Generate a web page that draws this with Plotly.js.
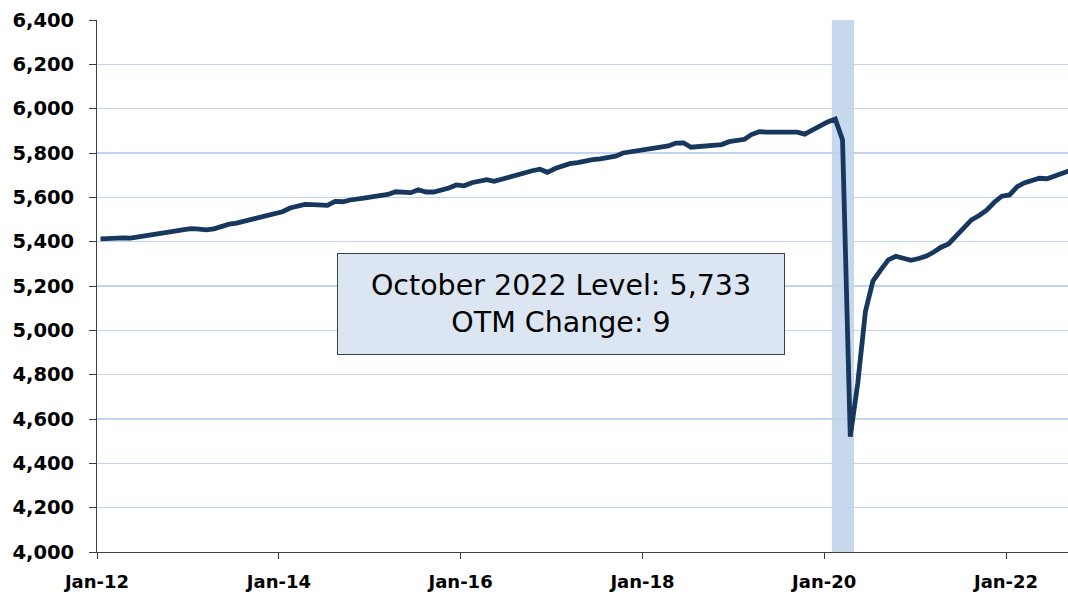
<!DOCTYPE html>
<html>
<head>
<meta charset="utf-8">
<script src="https://cdn.plot.ly/plotly-3.0.1.min.js"></script>
<style>
  html, body { margin: 0; padding: 0; background: #ffffff; }
  #chart { width: 1068px; height: 594px; }
</style>
</head>
<body>
<div id="chart"></div>
<script>
// Monthly levels (thousands), Jan 2012 – Oct 2022
const startYear = 2012;
const v2012 = [5413, 5415, 5420, 5417, 5416, 5422, 5430, 5432, 5440, 5445, 5449, 5454];
const v2013 = [5459, 5457, 5453, 5458, 5470, 5479, 5484, 5492, 5500, 5507, 5514, 5527];
const v2014 = [5535, 5552, 5562, 5568, 5567, 5565, 5564, 5582, 5580, 5588, 5595, 5598];
const v2015 = [5603, 5608, 5613, 5625, 5622, 5621, 5634, 5624, 5624, 5632, 5642, 5656];
const v2016 = [5652, 5666, 5675, 5680, 5672, 5682, 5693, 5703, 5714, 5720, 5727, 5713];
const v2017 = [5730, 5742, 5752, 5757, 5766, 5770, 5774, 5778, 5786, 5800, 5806, 5812];
const v2018 = [5814, 5820, 5826, 5832, 5845, 5846, 5826, 5828, 5833, 5836, 5838, 5851];
const v2019 = [5857, 5862, 5883, 5896, 5894, 5895, 5896, 5895, 5894, 5885, 5905, 5922];
const v2020 = [5940, 5953, 5859, 4520, 4760, 5085, 5222, 5272, 5318, 5334, 5327, 5316];
const v2021 = [5324, 5335, 5352, 5375, 5390, 5428, 5465, 5498, 5518, 5542, 5578, 5605];
const v2022 = [5611, 5648, 5665, 5678, 5686, 5684, 5697, 5705, 5724, 5733];
const yearly = [v2012, v2013, v2014, v2015, v2016, v2017, v2018, v2019, v2020, v2021, v2022];

const recession = ['2020-02-01', '2020-04-30'];
const boxText = ['October 2022 Level: 5,733', 'OTM Change: 9'];

const xs = [], ys = [];
yearly.forEach((arr, i) => {
  arr.forEach((v, m) => {
    const mm = String(m + 1).padStart(2, '0');
    xs.push((startYear + i) + '-' + mm + '-15');
    ys.push(v);
  });
});

const trace = {
  x: xs, y: ys, type: 'scatter', mode: 'lines',
  line: { color: '#17375E', width: 4.8 },
  hoverinfo: 'x+y'
};

const fontFam = 'DejaVu Sans, Verdana, sans-serif';

const layout = {
  width: 1068, height: 594,
  margin: { l: 97, r: 0, t: 20, b: 42 },
  paper_bgcolor: '#ffffff', plot_bgcolor: '#ffffff',
  showlegend: false,
  xaxis: {
    type: 'date',
    range: ['2012-01-01', '2022-09-07'],
    tick0: '2012-01-01', dtick: 'M24', tickformat: '%b-%y',
    showgrid: false, zeroline: false,
    showline: true, linecolor: '#404040', linewidth: 1,
    ticks: 'outside', ticklen: 6, tickcolor: '#404040',
    ticklabelstandoff: 7,
    tickfont: { family: fontFam, size: 18, color: '#000000', weight: 'bold' }
  },
  yaxis: {
    range: [4000, 6400], dtick: 200, tickformat: ',d',
    showgrid: true, gridcolor: '#C0D4EE', gridwidth: 1.6,
    zeroline: false,
    showline: true, linecolor: '#404040', linewidth: 1,
    ticks: 'outside', ticklen: 7, tickcolor: '#404040',
    ticklabelstandoff: 11,
    tickfont: { family: fontFam, size: 19.5, color: '#000000', weight: 'bold' }
  },
  shapes: [{
    type: 'rect', xref: 'x', yref: 'paper',
    x0: recession[0], x1: recession[1], y0: 0, y1: 1,
    fillcolor: '#C8D8EC', line: { width: 0 }, layer: 'below'
  }],
  annotations: [{
    xref: 'paper', yref: 'paper', x: 0.478, y: 0.466,
    xanchor: 'center', yanchor: 'middle',
    text: boxText.join('<br>'), showarrow: false,
    align: 'center',
    font: { family: fontFam, size: 28.5, color: '#000000' },
    bgcolor: '#DCE6F2', bordercolor: '#404040', borderwidth: 1, borderpad: 4,
    width: 438, height: 92
  }]
};

Plotly.newPlot('chart', [trace], layout, { displayModeBar: false, staticPlot: true });
</script>
</body>
</html>
